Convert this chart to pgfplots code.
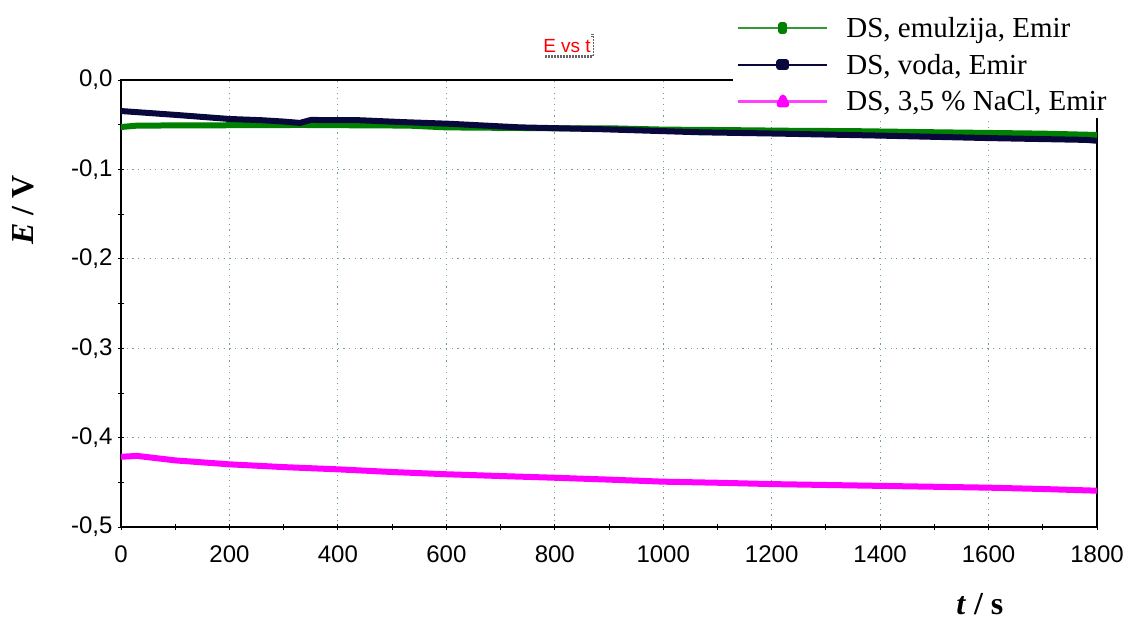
\documentclass[border=0pt]{standalone}
\usepackage{pgfplots}
\pgfplotsset{compat=1.18}
\usepackage{fontspec}
\setmainfont{Liberation Serif}
\newfontfamily\sansf{Liberation Sans}
\definecolor{cgreen}{RGB}{0,128,0}
\definecolor{cnavy}{RGB}{8,8,60}
\definecolor{cmag}{RGB}{255,0,255}
\definecolor{cgrid}{RGB}{110,160,150}
\begin{document}
\begin{tikzpicture}
\path[use as bounding box] (0pt,0pt) rectangle (1129pt,619pt);
% title
\draw[gray!80!black, line width=3pt, dash pattern=on 1.5pt off 1.5pt] (545pt,562pt) -- (592pt,562pt) -- (592pt,585pt);
\node[fill=white, inner sep=2pt, text=red, font=\sansf\fontsize{19}{21}\selectfont] at (567pt,573pt) {E vs t};
\begin{axis}[
  at={(121pt,539pt)}, anchor=north west,
  scale only axis, width=976pt, height=447pt,
  xmin=0, xmax=1800, ymin=-0.5, ymax=0,
  xtick={0,200,...,1800},
  xticklabels={0,200,400,600,800,1000,1200,1400,1600,1800},
  ytick={-0.5,-0.4,-0.3,-0.2,-0.1,0},
  yticklabels={{-0,5},{-0,4},{-0,3},{-0,2},{-0,1},{0,0}},
  minor xtick={100,300,...,1700},
  minor ytick={-0.45,-0.35,-0.25,-0.15,-0.05},
  xtick pos=left, ytick pos=left,
  tick align=center,
  major tick length=6pt, minor tick length=6pt,
  every tick/.style={black, line width=0.8pt},
  axis line style={black, line width=1.3pt},
  grid=major,
  major grid style={cgrid, line width=1pt, dash pattern=on 1.2pt off 4.5pt},
  ticklabel style={font=\sansf\fontsize{24}{26}\selectfont},
  yticklabel style={xshift=-2pt},
  xticklabel style={yshift=-12pt},
  xlabel={\textbf{\textit{t} / s}},
  ylabel={\textbf{\textit{E} / V}},
  label style={font=\fontsize{32}{34}\selectfont},
  xlabel style={at={(axis description cs:0.880,-0.172)}, anchor=center},
  ylabel style={at={(axis description cs:-0.100,0.709)}, anchor=center},
  legend style={at={(axis description cs:0.627,1.154)}, anchor=north west, draw=none, fill=white,
    font=\fontsize{29}{31}\selectfont, row sep=11pt, inner sep=4pt},
  legend cell align=left,
  clip=true,
]
\addplot[cgreen, line width=6pt, line join=round,
  legend image code/.code={\draw[cgreen!80, line width=2.5pt] (0pt,0pt)--(89pt,0pt); \fill[cgreen] (43pt,-3pt) rectangle (46pt,3pt); \path (103pt,0pt);}]
coordinates {
(0,-0.0526) (30,-0.051) (330,-0.0503) (530,-0.051) (600,-0.053) (700,-0.0535)
(800,-0.054) (900,-0.054) (1000,-0.0555) (1110,-0.056) (1236,-0.0568)
(1350,-0.0572) (1505,-0.0585) (1700,-0.060) (1800,-0.0615)
};
\addlegendentry{DS, emulzija, Emir}
\addplot[cnavy, line width=6pt, line join=round,
  legend image code/.code={\draw[cnavy, line width=2.5pt] (0pt,0pt)--(89pt,0pt); \fill[cnavy] (41pt,-2pt) rectangle (48pt,2.5pt); \path (103pt,0pt);}]
coordinates {
(0,-0.0347) (100,-0.039) (200,-0.0436) (260,-0.045) (300,-0.0465) (330,-0.048)
(350,-0.0447) (440,-0.045) (515,-0.047) (607,-0.049) (736,-0.053) (883,-0.055)
(1068,-0.0585) (1215,-0.0600) (1400,-0.0622) (1603,-0.065) (1780,-0.0670) (1800,-0.068)
};
\addlegendentry{DS, voda, Emir}
\addplot[cmag, line width=6pt, line join=round,
  legend image code/.code={\draw[cmag!75, line width=2.5pt] (0pt,0pt)--(89pt,0pt); \fill[cmag] (41pt,-3pt) -- (48pt,-3pt) -- (44.5pt,4pt) -- cycle; \path (103pt,0pt);}]
coordinates {
(0,-0.4214) (30,-0.4205) (100,-0.4255) (200,-0.4299) (300,-0.433) (400,-0.4355)
(500,-0.4385) (600,-0.441) (700,-0.443) (800,-0.4449) (900,-0.447) (1000,-0.4493)
(1100,-0.4505) (1200,-0.452) (1300,-0.453) (1400,-0.454) (1500,-0.455)
(1600,-0.456) (1700,-0.4575) (1800,-0.4594)
};
\addlegendentry{DS, 3,5 \% NaCl, Emir\hspace{10pt}}
\end{axis}
\end{tikzpicture}
\end{document}
